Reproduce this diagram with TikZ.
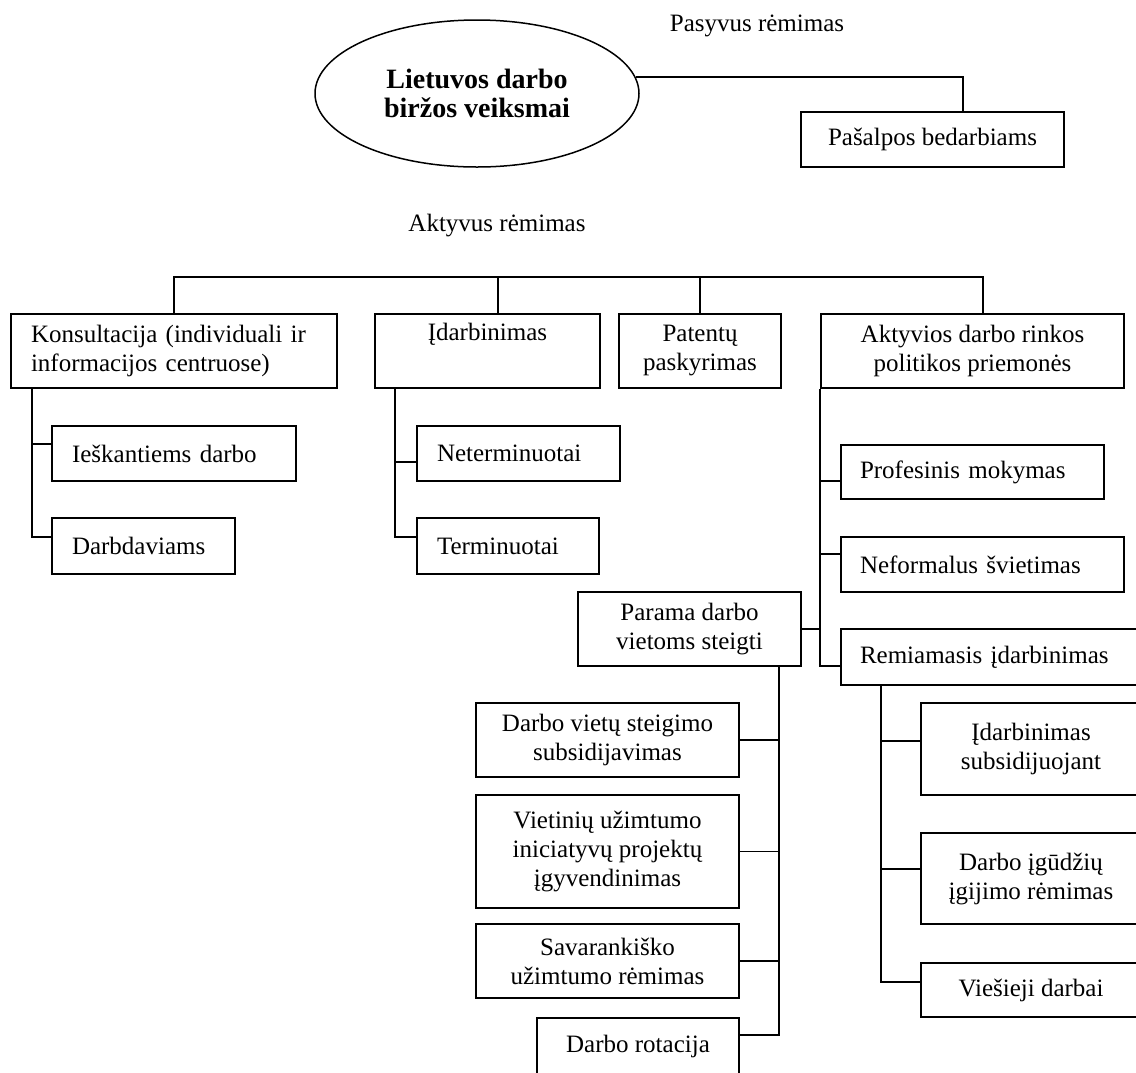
\documentclass[tikz,border=0pt]{standalone}
\usepackage{fontspec}
\setmainfont{Liberation Serif}
\usetikzlibrary{calc,shapes.geometric}
\begin{document}
\begin{tikzpicture}[x=1pt,y=-1pt,
  every node/.style={font=\fontsize{25}{29}\selectfont},
  cbox/.style={draw, line width=1.7pt, inner sep=0pt, align=center},
  lbox/.style={draw, line width=1.7pt, inner xsep=20pt, inner ysep=0pt, align=left},
  ellbox/.style={ellipse, draw, line width=1.5pt, minimum width=324pt, minimum height=147pt, inner sep=0pt, align=center, font=\fontsize{28}{29}\selectfont\bfseries},
  conn/.style={line width=1.7pt},
]
\useasboundingbox (0,0) rectangle (1136,1072);
\fill[white] (0,0) rectangle (1136,1072);
\clip (0,0) rectangle (1136,1072);

% top part
\node[ellbox] (ell) at (477,93.5) {Lietuvos darbo\\biržos veiksmai};
\node (pasl) at (757,26) {Pasyvus rėmimas};
\node[cbox, minimum width=263pt, minimum height=55pt] (pas) at (932.5,139.5) {Pašalpos bedarbiams};
\draw[conn] (ell.6.4) -| ($(pas.north west)!0.616!(pas.north east)$);

\node (akl) at (497,226) {Aktyvus rėmimas};

% first row
\node[lbox, text width=286pt, minimum height=74pt] (kons) at (174,351) {Konsultacija (individuali ir\\informacijos centruose)};
\node[cbox, minimum width=225pt, minimum height=74pt] (idarb) at (487.5,351) {Įdarbinimas\\\strut};
\node[cbox, minimum width=162pt, minimum height=74pt] (pat) at (700,351) {Patentų\\paskyrimas};
\node[cbox, minimum width=303pt, minimum height=74pt] (akt) at (972.5,351) {Aktyvios darbo rinkos\\politikos priemonės};

\draw[conn] (kons.north) -- ++(0,-36) -| ($(akt.north west)!0.535!(akt.north east)$);
\draw[conn] ($(idarb.north west)!0.547!(idarb.north east)$) -- ++(0,-36);
\draw[conn] (pat.north) -- ++(0,-36);

% Konsultacija children
\node[lbox, text width=204pt, minimum height=55pt] (iesk) at (174,453.5) {Ieškantiems darbo};
\node[lbox, text width=143pt, minimum height=56pt] (darb) at (143.5,546) {Darbdaviams};
\draw[conn] ($(kons.south west)+(22,0)$) |- ([yshift=9.5pt]iesk.west);
\draw[conn] ($(kons.south west)+(22,0)$) |- ([yshift=9pt]darb.west);

% Idarbinimas children
\node[lbox, text width=163pt, minimum height=55pt] (neterm) at (518.5,453.5) {Neterminuotai};
\node[lbox, text width=142pt, minimum height=56pt] (term) at (508,546) {Terminuotai};
\draw[conn] ($(idarb.south west)+(21,0)$) |- ([yshift=-8.5pt]neterm.west);
\draw[conn] ($(idarb.south west)+(21,0)$) |- ([yshift=9pt]term.west);

% Aktyvios children
\node[lbox, inner xsep=19pt, text width=225pt, minimum height=54pt] (prof) at (972.5,472) {Profesinis mokymas};
\node[lbox, inner xsep=19pt, text width=245pt, minimum height=55pt] (nef) at (982.5,564.5) {Neformalus švietimas};
\node[cbox, minimum width=223pt, minimum height=74pt] (par) at (689.5,629) {Parama darbo\\vietoms steigti};
\node[lbox, inner xsep=19pt, text width=271pt, minimum height=56pt] (rem) at (995.5,657) {Remiamasis įdarbinimas};
\draw[conn] (akt.south west) |- ([yshift=-9pt]rem.west);
\draw[conn] (akt.south west) |- ([yshift=-9pt]prof.west);
\draw[conn] (akt.south west) |- ([yshift=10.5pt]nef.west);
\draw[conn] (par.east) -- (par.east -| akt.south west);

% Parama children
\node[cbox, minimum width=263pt, minimum height=74pt] (dvs) at (607.5,740) {Darbo vietų steigimo\\subsidijavimas};
\node[cbox, minimum width=263pt, minimum height=113pt] (vie) at (607.5,851.5) {Vietinių užimtumo\\iniciatyvų projektų\\įgyvendinimas};
\node[cbox, minimum width=263pt, minimum height=74pt] (sav) at (607.5,961) {Savarankiško\\užimtumo rėmimas};
\node[cbox, minimum width=202pt, anchor=north, inner ysep=17pt, text height=18pt, text depth=60pt] (rot) at (638,1017) {Darbo rotacija};
\draw[conn] ($(par.south west)+(202,0)$) |- (dvs.east);
\draw[conn] ($(par.south west)+(202,0)$) |- (vie.east);
\draw[conn] ($(par.south west)+(202,0)$) |- (sav.east);
\draw[conn] ($(par.south west)+(202,0)$) |- ([yshift=-18pt]rot.north east);

% Remiamasis children
\node[cbox, minimum width=220pt, minimum height=92pt] (isub) at (1031,749) {Įdarbinimas\\subsidijuojant};
\node[cbox, minimum width=220pt, minimum height=91pt] (igud) at (1031,878.5) {Darbo įgūdžių\\įgijimo rėmimas};
\node[cbox, minimum width=220pt, minimum height=54pt] (vies) at (1031,990) {Viešieji darbai};
\draw[conn] ($(rem.south west)+(41,0)$) |- ([yshift=8pt]isub.west);
\draw[conn] ($(rem.south west)+(41,0)$) |- ([yshift=9.5pt]igud.west);
\draw[conn] ($(rem.south west)+(41,0)$) |- ([yshift=8pt]vies.west);
\end{tikzpicture}
\end{document}
